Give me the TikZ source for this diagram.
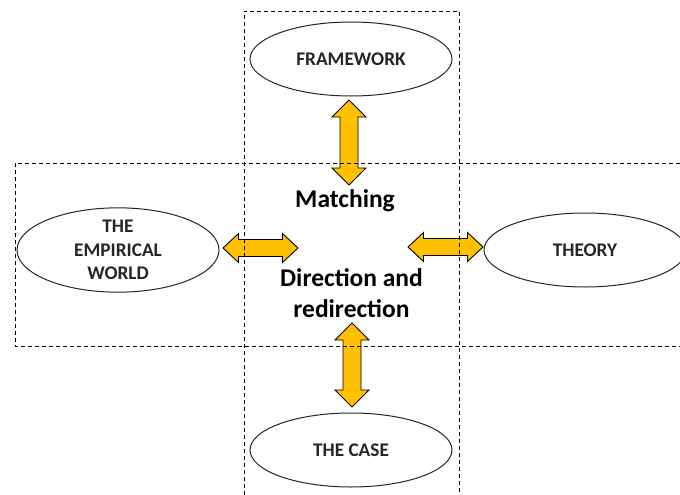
\documentclass[tikz,border=0pt]{standalone}
\usepackage{fontspec}
\setmainfont{Carlito}
\usetikzlibrary{shapes.geometric}
\definecolor{gold}{HTML}{FFC000}
\tikzset{
  box/.style={draw=black, line width=0.9pt, dash pattern=on 4pt off 3pt},
  oval/.style={ellipse, draw=black!85, line width=1pt, fill=white, inner sep=0pt,
    minimum width=202pt, minimum height=74pt, font=\bfseries\fontsize{19.3}{23.5}\selectfont, align=center, text=black!85},
  darrow/.style={draw=black, line width=0.9pt, fill=gold, line join=miter},
  midtext/.style={font=\bfseries\fontsize{25.5}{32}\selectfont, anchor=base}
}
% vertical double arrow: x, ytop, ybot, half head width, half shaft width, head length
\newcommand\vdarr[6]{%
  \draw[darrow] (#1,#2) -- (#1+#4,#2+#6) -- (#1+#5,#2+#6) -- (#1+#5,#3-#6) -- (#1+#4,#3-#6)
    -- (#1,#3) -- (#1-#4,#3-#6) -- (#1-#5,#3-#6) -- (#1-#5,#2+#6) -- (#1-#4,#2+#6) -- cycle;}
% horizontal double arrow: y, xleft, xright, half head, half shaft, head length
\newcommand\hdarr[6]{%
  \draw[darrow] (#2,#1) -- (#2+#6,#1-#4) -- (#2+#6,#1-#5) -- (#3-#6,#1-#5) -- (#3-#6,#1-#4)
    -- (#3,#1) -- (#3-#6,#1+#4) -- (#3-#6,#1+#5) -- (#2+#6,#1+#5) -- (#2+#6,#1+#4) -- cycle;}
\begin{document}
\begin{tikzpicture}[x=1pt,y=-1pt]
\useasboundingbox (0,0) rectangle (680,495);
\fill[white] (0,0) rectangle (680,495);
% ellipses
\node[oval] (fw) at (351,59) {FRAMEWORK};
\node[oval] (emp) at (118,250) {THE\\EMPIRICAL\\WORLD};
\node[oval] (th) at (585,250) {THEORY};
\node[oval] (cs) at (351,450) {THE CASE};
% centre texts
\node[midtext] (match) at (345,207.5) {Matching};
\node[midtext] (dir) at (351.5,286) {Direction and};
\node[midtext] (redir) at (351.5,317) {redirection};
% double arrows
\vdarr{349}{100}{185}{17}{9}{17}
\hdarr{248}{223}{298}{14.5}{8.5}{15.5}
\hdarr{247}{408}{483}{14.5}{8.5}{15.5}
\vdarr{352}{323}{407}{17}{9}{17}
% dashed frames (drawn on top)
\draw[box] (244,495) -- (244,11) -- (459,11) -- (459,495);
\draw[box] (680,163) -- (15,163) -- (15,346) -- (680,346);
\end{tikzpicture}
\end{document}
